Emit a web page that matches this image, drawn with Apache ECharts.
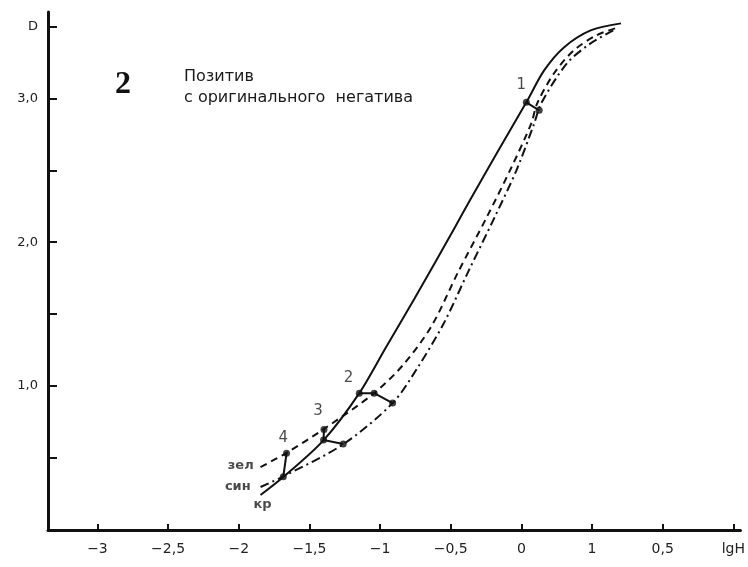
<!DOCTYPE html>
<html>
<head>
<meta charset="utf-8">
<script src="https://cdn.jsdelivr.net/npm/echarts@6/dist/echarts.min.js"></script>
<style>
    html, body { margin: 0; padding: 0; background: #fff; }
    #chart_1 { width: 748px; height: 567px; }
</style>
</head>
<body>
<div id="chart_1"></div>
<script>
// кривые: [lgH, D]
var curveKr = [[-1.846, 0.243], [-1.685, 0.368], [-1.399, 0.625], [-1.147, 0.951], [-0.958, 1.27], [-0.755, 1.61],
    [-0.469, 2.106], [-0.364, 2.292], [-0.162, 2.639], [0.035, 2.972], [0.161, 3.194], [0.301, 3.354], [0.49, 3.472], [0.705, 3.521]];
var curveZel = [[-1.846, 0.4375], [-1.664, 0.535], [-1.399, 0.701], [-1.042, 0.951], [-0.832, 1.153], [-0.636, 1.417],
    [-0.448, 1.792], [-0.245, 2.174], [-0.07, 2.521], [0.07, 2.826], [0.112, 2.965], [0.231, 3.174], [0.371, 3.333], [0.531, 3.438], [0.685, 3.493]];
var curveSin = [[-1.846, 0.299], [-1.685, 0.372], [-1.259, 0.597], [-0.911, 0.882], [-0.741, 1.118], [-0.552, 1.431],
    [-0.371, 1.806], [-0.189, 2.174], [-0.035, 2.5], [0.091, 2.826], [0.14, 2.965], [0.322, 3.243], [0.49, 3.382], [0.65, 3.472]];

// отмеченные точки и отрезки между ними
var links = [
    [[0.035, 2.972], [0.126, 2.917]],
    [[-1.147, 0.951], [-1.042, 0.951], [-0.911, 0.882]],
    [[-1.397, 0.699], [-1.4, 0.625], [-1.261, 0.597]],
    [[-1.662, 0.533], [-1.685, 0.37]]
];
var dots = [[0.035, 2.972], [0.126, 2.917], [-1.147, 0.951], [-1.042, 0.951], [-0.911, 0.882],
    [-1.397, 0.699], [-1.4, 0.625], [-1.261, 0.597], [-1.662, 0.533], [-1.685, 0.37]];

// подписи
var numLabels = [['1', 0.0, 3.09], ['2', -1.224, 1.056], ['3', -1.44, 0.826], ['4', -1.685, 0.639]];
var curveNames = [['зел', -1.986, 0.444], ['син', -2.007, 0.299], ['кр', -1.832, 0.174]];

var xTicks = [-3, -2.5, -2, -1.5, -1, -0.5, 0, 0.5, 1, 1.5];
var xTickLabels = ['−3', '−2,5', '−2', '−1,5', '−1', '−0,5', '0', '1', '0,5', 'lgH'];
var yTicks = [0.5, 1, 1.5, 2, 2.5, 3, 3.5];
var yTickLabels = ['', '1,0', '', '2,0', '', '3,0', 'D'];

var myChart = echarts.init(document.getElementById('chart_1'));

var series = [
    {
        name: 'кр', type: 'line', smooth: 0.3, showSymbol: false,
        lineStyle: { color: '#111', width: 2 },
        data: curveKr
    },
    {
        name: 'зел', type: 'line', smooth: 0.3, showSymbol: false,
        lineStyle: { color: '#111', width: 2, type: [7, 5] },
        data: curveZel
    },
    {
        name: 'син', type: 'line', smooth: 0.3, showSymbol: false,
        lineStyle: { color: '#111', width: 2, type: [9, 4, 2, 4] },
        data: curveSin
    }
];
links.forEach(function (l) {
    series.push({
        type: 'line', showSymbol: false, silent: true,
        lineStyle: { color: '#111', width: 2 },
        data: l
    });
});
series.push({
    type: 'scatter', symbolSize: 7, itemStyle: { color: '#111' },
    data: dots
});
series.push({
    type: 'scatter', symbolSize: 0,
    label: {
        show: true, position: 'inside', color: '#1a1a1a',
        fontFamily: 'DejaVu Sans', fontSize: 15,
        formatter: function (p) { return p.data[2]; }
    },
    data: numLabels.map(function (d) { return [d[1], d[2], d[0]]; })
});
series.push({
    type: 'scatter', symbolSize: 0,
    label: {
        show: true, position: 'inside', color: '#1a1a1a',
        fontFamily: 'DejaVu Sans', fontSize: 13, fontWeight: 'bold',
        formatter: function (p) { return p.data[2]; }
    },
    data: curveNames.map(function (d) { return [d[1], d[2], d[0]]; })
});

var option = {
    backgroundColor: '#fff',
    animation: false,
    title: [
        {
            text: '2', left: 110, top: 64,
            textStyle: { fontFamily: 'Liberation Serif', fontSize: 32, fontWeight: 'bold', color: '#111' }
        },
        {
            text: 'Позитив\nс оригинального  негатива', left: 179, top: 61,
            textStyle: { fontFamily: 'DejaVu Sans', fontSize: 16, fontWeight: 'normal', color: '#1a1a1a', lineHeight: 21 }
        }
    ],
    grid: { left: 48, right: 0, top: 12, bottom: 37, containLabel: false },
    xAxis: {
        type: 'value', min: -3.35, max: 1.55,
        splitLine: { show: false },
        axisLine: { onZero: false, lineStyle: { color: '#111', width: 3 } },
        axisTick: { inside: true, length: 6, customValues: xTicks, lineStyle: { color: '#111', width: 2 } },
        axisLabel: {
            customValues: xTicks, color: '#222', fontFamily: 'DejaVu Sans', fontSize: 14, margin: 12,
            formatter: function (v) {
                var i = xTicks.indexOf(Math.round(v * 10) / 10);
                return i < 0 ? '' : xTickLabels[i];
            }
        }
    },
    yAxis: {
        type: 'value', min: 0, max: 3.6,
        splitLine: { show: false },
        axisLine: { onZero: false, lineStyle: { color: '#111', width: 3 } },
        axisTick: { inside: true, length: 9, customValues: yTicks, lineStyle: { color: '#111', width: 2 } },
        axisLabel: {
            customValues: yTicks, color: '#222', fontFamily: 'DejaVu Sans', fontSize: 13, margin: 10,
            formatter: function (v) {
                var i = yTicks.indexOf(Math.round(v * 10) / 10);
                return i < 0 ? '' : yTickLabels[i];
            }
        }
    },
    series: series
};

myChart.setOption(option);
</script>
</body>
</html>
